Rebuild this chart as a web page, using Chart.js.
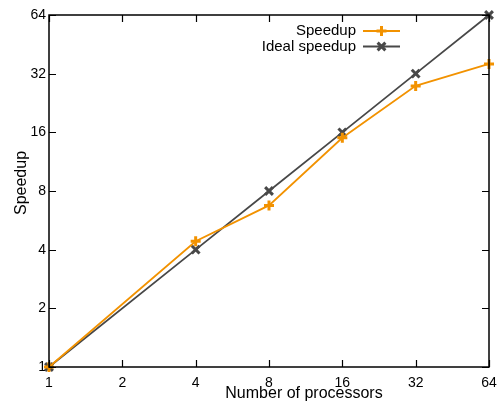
<!DOCTYPE html>
<html>
<head>
<meta charset="utf-8">
<script src="https://cdn.jsdelivr.net/npm/chart.js@4/dist/chart.umd.min.js"></script>
<style>
html,body{margin:0;padding:0;background:#fff;}
#wrap{width:498px;height:402px;position:relative;}
</style>
</head>
<body>
<div id="wrap"><canvas id="c" width="498" height="402"></canvas></div>
<script>
const processors = [1, 4, 8, 16, 32, 64];
const speedup = [1, 4.42, 6.75, 15.0, 27.7, 35.9];
const idealSpeedup = [1, 4, 8, 16, 32, 64];
const tickValues = [1, 2, 4, 8, 16, 32, 64];
const seriesNames = ['Speedup', 'Ideal speedup'];
const xTitle = 'Number of processors';
const yTitle = 'Speedup';

const FONT = '"Liberation Sans", Arial, sans-serif';
const ORANGE = 'rgb(242,146,0)';
const GRAY = 'rgb(72,72,72)';

const framePlugin = {
  id: 'frame',
  afterDatasetsDraw(chart) {
    const {ctx, chartArea: a, scales} = chart;
    ctx.save();
    ctx.strokeStyle = '#000';
    ctx.lineWidth = 1.5;
    ctx.strokeRect(a.left, a.top, a.right - a.left, a.bottom - a.top);
    ctx.lineWidth = 1.2;
    const tl = 7;
    tickValues.forEach(v => {
      const x = Math.round(scales.x.getPixelForValue(v)) + 0.5;
      ctx.beginPath();
      ctx.moveTo(x, a.bottom); ctx.lineTo(x, a.bottom - tl);
      ctx.moveTo(x, a.top); ctx.lineTo(x, a.top + tl);
      ctx.stroke();
      const y = Math.round(scales.y.getPixelForValue(v)) + 0.5;
      ctx.beginPath();
      ctx.moveTo(a.left, y); ctx.lineTo(a.left + tl, y);
      ctx.moveTo(a.right, y); ctx.lineTo(a.right - tl, y);
      ctx.stroke();
    });
    // titles
    ctx.fillStyle = '#000';
    ctx.font = '16px ' + FONT;
    ctx.textAlign = 'center';
    ctx.textBaseline = 'middle';
    ctx.fillText(xTitle, 304, 394);
    ctx.save();
    ctx.translate(22, 183);
    ctx.rotate(-Math.PI / 2);
    ctx.fillText(yTitle, 0, 0);
    ctx.restore();
    // legend
    const items = chart.data.datasets;
    ctx.font = '15px ' + FONT;
    ctx.textAlign = 'right';
    items.forEach((ds, i) => {
      const y = 31 + i * 15.5;
      ctx.fillStyle = '#000';
      ctx.fillText(ds.label, 356, y);
      ctx.strokeStyle = ds.borderColor;
      ctx.lineWidth = ds.borderWidth;
      ctx.beginPath();
      ctx.moveTo(363, y); ctx.lineTo(400, y);
      ctx.stroke();
      ctx.lineWidth = ds.pointBorderWidth;
      Chart.helpers.drawPoint(ctx, {
        pointStyle: ds.pointStyle, radius: ds.pointRadius, borderWidth: ds.pointBorderWidth
      }, 381.5, y);
    });
    ctx.restore();
  }
};

const logTicks = scale => { scale.ticks = tickValues.map(v => ({value: v})); };

new Chart(document.getElementById('c'), {
  type: 'line',
  data: {
    datasets: [
      {
        label: seriesNames[0],
        data: processors.map((p, i) => ({x: p, y: speedup[i]})),
        borderColor: ORANGE, backgroundColor: ORANGE,
        borderWidth: 1.8, pointStyle: 'cross', pointRadius: 5,
        pointBorderWidth: 3, pointBorderColor: ORANGE, fill: false, tension: 0
      },
      {
        label: seriesNames[1],
        data: processors.map((p, i) => ({x: p, y: idealSpeedup[i]})),
        borderColor: GRAY, backgroundColor: GRAY,
        borderWidth: 1.8, pointStyle: 'crossRot', pointRadius: 5.5,
        pointBorderWidth: 3, pointBorderColor: GRAY, fill: false, tension: 0
      }
    ]
  },
  options: {
    responsive: false,
    animation: false,
    clip: false,
    layout: {padding: {top: 15, right: 9, left: 0, bottom: 0}},
    plugins: {legend: {display: false}, tooltip: {enabled: false}},
    scales: {
      x: {
        type: 'logarithmic', min: 1, max: 64,
        afterBuildTicks: logTicks,
        afterFit: s => { s.height = 35; s.paddingLeft = 0; s.paddingRight = 0; },
        grid: {display: false, drawTicks: false},
        border: {display: false},
        ticks: {
          padding: 8, color: '#000', maxRotation: 0, autoSkip: false,
          font: {family: FONT, size: 14},
          callback: v => String(v)
        }
      },
      y: {
        type: 'logarithmic', min: 1, max: 64,
        afterBuildTicks: logTicks,
        afterFit: s => { s.width = 49; s.paddingTop = 0; s.paddingBottom = 0; },
        grid: {display: false, drawTicks: false},
        border: {display: false},
        ticks: {
          padding: 3, color: '#000', autoSkip: false,
          font: {family: FONT, size: 14},
          callback: v => String(v)
        }
      }
    }
  },
  plugins: [framePlugin]
});
</script>
</body>
</html>
